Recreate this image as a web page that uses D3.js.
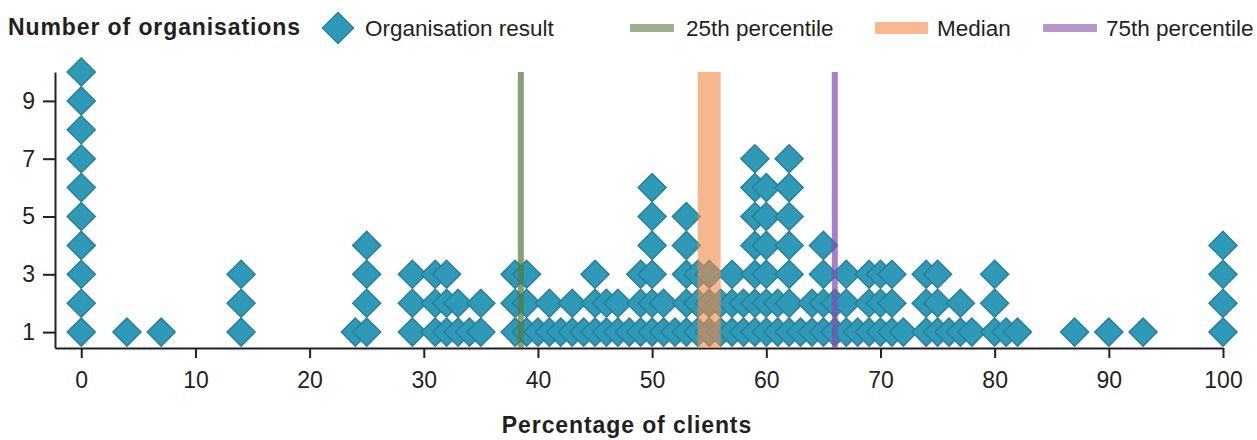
<!DOCTYPE html>
<html>
<head>
<meta charset="utf-8">
<script src="https://cdn.jsdelivr.net/npm/d3@7"></script>
<style>
  html, body { margin: 0; padding: 0; background: #ffffff; }
  svg { display: block; }
  text { font-family: "Liberation Sans", Arial, sans-serif; fill: #231f20; }
</style>
</head>
<body>
<div id="chart"></div>
<script>
// Percentage of clients (x) and the number of organisations at that value (stack height)
const percentValues = [0, 4, 7, 14, 24, 25, 29, 31, 32, 33, 34, 35, 38, 39,
  40, 41, 42, 43, 44, 45, 46, 47, 48, 49,
  50, 51, 52, 53, 54, 55, 56, 57, 58, 59,
  60, 61, 62, 63, 64, 65, 66, 67, 68, 69,
  70, 71, 72, 74, 75, 76, 77, 78, 80, 81, 82, 87, 90, 93, 100];
const orgCounts = [10, 1, 1, 3, 1, 4, 3, 3, 3, 2, 1, 2, 3, 3,
  1, 2, 1, 2, 1, 3, 2, 2, 1, 3,
  6, 2, 1, 5, 3, 3, 2, 3, 2, 7,
  6, 2, 7, 1, 2, 4, 2, 3, 1, 3,
  3, 3, 1, 3, 3, 1, 2, 1, 3, 1, 1, 1, 1, 1, 4];

// Summary lines
const percentileNames = ["25th percentile", "Median", "75th percentile"];
const percentileValues = [38.5, 55, 66];

// Axis ticks
const xTicks = [0, 10, 20, 30, 40, 50, 60, 70, 80, 90, 100];
const yTicks = [1, 3, 5, 7, 9];

const W = 1257, H = 440;
const FONT = 23, LEGEND_FONT = 22.5;
const svg = d3.select("#chart").append("svg").attr("width", W).attr("height", H);

const x = d3.scaleLinear().domain([-2.3, 100]).range([55, 1223]);
const y = d3.scaleLinear().domain([0.45, 10]).range([348, 72]);

const diamondFill = "#2e9ab8", diamondStroke = "#2a7f99";
const lineStyles = [
  { color: "#557b40", width: 6, opacity: 0.72, legend: "#9cb08e", lw: 44, lh: 8, tx: 686 },
  { color: "#f18a4b", width: 23, opacity: 0.62, legend: "#f8b890", lw: 53, lh: 12, tx: 937 },
  { color: "#8250b0", width: 6, opacity: 0.72, legend: "#b597c9", lw: 54, lh: 8, tx: 1106 }
];
const legendX = [630, 875, 1043];

// Expand each column into individual stacked points
const points = [];
percentValues.forEach((v, i) => {
  for (let k = 1; k <= orgCounts[i]; k++) points.push({ v, k });
});

// Axes
const axisColor = "#231f20";
const xAxis = svg.append("g").attr("transform", `translate(0,${y.range()[0]})`)
  .call(d3.axisBottom(x).tickValues(xTicks).tickSize(10).tickSizeOuter(0).tickPadding(14));
const yAxis = svg.append("g").attr("transform", `translate(${x.range()[0]},0)`)
  .call(d3.axisLeft(y).tickValues(yTicks).tickSize(12).tickSizeOuter(0).tickPadding(8));
[xAxis, yAxis].forEach(g => {
  g.selectAll("path, line").attr("stroke", axisColor).attr("stroke-width", 2);
  g.selectAll("text").attr("font-size", FONT).attr("fill", axisColor)
    .attr("font-family", "'Liberation Sans', Arial, sans-serif");
});

// Diamonds
const diamond = d3.symbol().type(d3.symbolSquare).size(392);
svg.append("g").selectAll("path").data(points).join("path")
  .attr("d", diamond)
  .attr("transform", d => `translate(${x(d.v)},${y(d.k)}) rotate(45)`)
  .attr("fill", diamondFill)
  .attr("stroke", diamondStroke)
  .attr("stroke-width", 1.5);

// Percentile lines drawn over the diamonds
svg.append("g").selectAll("line").data(percentileValues).join("line")
  .attr("x1", d => x(d)).attr("x2", d => x(d))
  .attr("y1", y(10)).attr("y2", y.range()[0])
  .attr("stroke", (d, i) => lineStyles[i].color)
  .attr("stroke-width", (d, i) => lineStyles[i].width)
  .attr("stroke-opacity", (d, i) => lineStyles[i].opacity);

// Axis title and y heading
svg.append("text").attr("x", 627).attr("y", 433).attr("text-anchor", "middle")
  .attr("font-size", FONT).attr("font-weight", "bold").attr("letter-spacing", 0.9)
  .text("Percentage of clients");
svg.append("text").attr("x", 8).attr("y", 35)
  .attr("font-size", FONT).attr("font-weight", "bold").attr("letter-spacing", 0.9)
  .text("Number of organisations");

// Legend
const legend = svg.append("g");
legend.append("path").attr("d", d3.symbol().type(d3.symbolSquare).size(480))
  .attr("transform", "translate(338,28) rotate(45)")
  .attr("fill", diamondFill).attr("stroke", diamondStroke).attr("stroke-width", 1.5);
legend.append("text").attr("x", 365).attr("y", 36).attr("font-size", LEGEND_FONT)
  .text("Organisation result");

percentileNames.forEach((name, i) => {
  const s = lineStyles[i];
  legend.append("rect").attr("x", legendX[i]).attr("y", 28 - s.lh / 2)
    .attr("width", s.lw).attr("height", s.lh).attr("fill", s.legend);
  legend.append("text").attr("x", s.tx).attr("y", 36)
    .attr("font-size", LEGEND_FONT).text(name);
});
</script>
</body>
</html>
